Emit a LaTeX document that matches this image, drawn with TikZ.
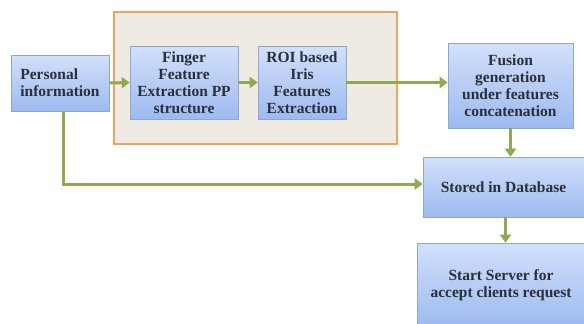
\documentclass[tikz,border=0pt]{standalone}
\usepackage{fontspec}
\setmainfont{Liberation Serif}
\usetikzlibrary{arrows.meta,shadings}
\definecolor{boxtop}{HTML}{D2E0FB}
\definecolor{boxbot}{HTML}{9DBAF0}
\definecolor{boxline}{HTML}{8FA6CF}
\definecolor{contfill}{HTML}{EFEBE2}
\definecolor{contline}{HTML}{F2A064}
\definecolor{arrowgreen}{HTML}{8EAA4E}
\definecolor{txt}{HTML}{2A2F3A}
\tikzset{
  bluebox/.style={draw=boxline, line width=0.6pt, top color=boxtop, bottom color=boxbot,
    align=center, inner sep=2pt, font=\fontsize{15.5}{17}\selectfont\bfseries, text=txt},
  flow/.style={draw=arrowgreen, line width=3pt, -{Triangle[length=8pt,width=11pt]}},
}
\begin{document}
\begin{tikzpicture}[x=1pt,y=-1pt]
\useasboundingbox (0,0) rectangle (584,324);
\fill[white] (0,0) rectangle (584,324);
\draw[draw=contline, fill=contfill, line width=1.3pt] (114,12) rectangle (397,144);
\node[bluebox, align=left, minimum width=98pt, minimum height=56pt] (personal) at (60,83) {Personal\\information};
\node[bluebox, minimum width=108pt, minimum height=73pt] (finger) at (184,82.5) {Finger\\Feature\\Extraction PP\\structure};
\node[bluebox, minimum width=88pt, minimum height=73pt] (roi) at (302,82.5) {ROI based\\Iris\\Features\\Extraction};
\node[bluebox, minimum width=125pt, minimum height=85pt] (fusion) at (510.5,85.5) {Fusion\\generation\\under features\\concatenation};
\node[bluebox, minimum width=161pt, minimum height=60pt] (stored) at (503.5,187) {Stored in Database};
\node[bluebox, minimum width=168pt, minimum height=84pt] (start) at (501,285) {Start Server for\\accept clients request};
\draw[flow] (personal.east) -- (finger.west);
\draw[flow] (finger.east) -- (roi.west);
\draw[flow] (roi.east) -- (roi.east -| fusion.west);
\draw[flow] (fusion.south) -- (fusion.south |- stored.north);
\draw[flow] ([xshift=2pt]stored.south) -- ([xshift=2pt]stored.south |- start.north);
\draw[flow] ([xshift=3pt]personal.south) |- ([yshift=3pt]stored.west);
\end{tikzpicture}
\end{document}
